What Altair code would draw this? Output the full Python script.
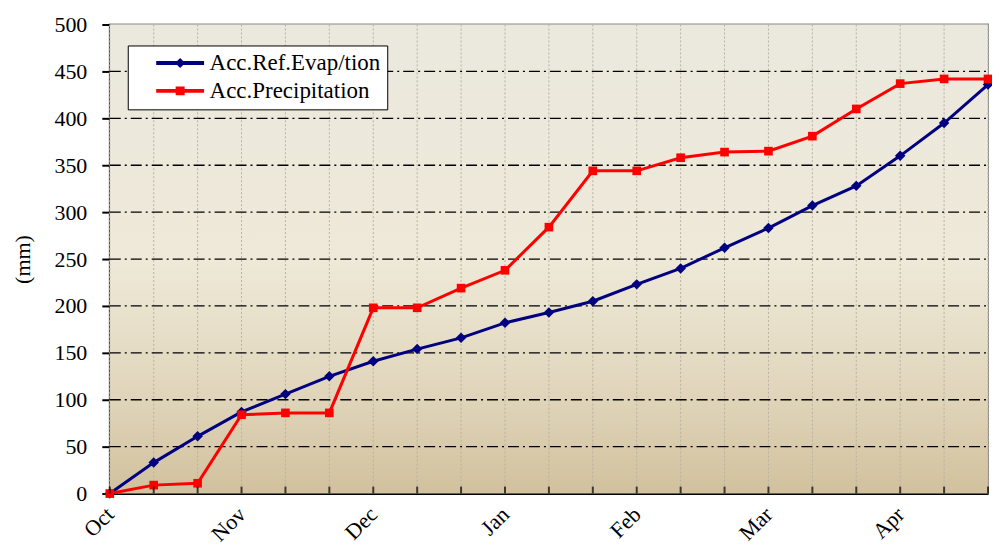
import altair as alt
import pandas as pd

months = ["Oct", "Nov", "Dec", "Jan", "Feb", "Mar", "Apr"]
dekad = list(range(21))
evap = [0, 33, 61, 87, 106, 125, 141, 154, 166, 182, 193, 205, 223, 240, 262, 283, 307, 328, 360, 395, 436]
precip = [0, 9, 11, 84, 86, 86, 198, 198, 219, 238, 284, 344, 344, 358, 364, 365, 381, 410, 437, 442, 442]
series_names = ["Acc.Ref.Evap/tion", "Acc.Precipitation"]
colors = ["#000080", "#ff0000"]
marker_shapes = ["diamond", "square"]
marker_sizes = [110, 75]
y_ticks = list(range(0, 501, 50))

W, H = 880, 470
FONT = "Liberation Serif"

df = pd.DataFrame({
    "dekad": dekad * 2,
    "value": evap + precip,
    "series": [series_names[0]] * len(dekad) + [series_names[1]] * len(dekad),
})
ticks_df = pd.DataFrame({"dekad": dekad})
ygrid_df = pd.DataFrame({"value": y_ticks[1:-1]})

month_js = "[" + ",".join("'%s'" % m for m in months) + "]"
x_label_expr = f"(datum.value % 3 == 0 && datum.value / 3 < {len(months)}) ? {month_js}[datum.value / 3] : ''"

color_scale = alt.Scale(domain=series_names, range=colors)
x_scale = alt.Scale(domain=[0, 20], nice=False, zero=False)
y_scale = alt.Scale(domain=[0, 500], nice=False)

x_axis = alt.Axis(
    values=dekad, labelExpr=x_label_expr, title=None, ticks=False, grid=False,
    domainColor="black", domainWidth=2,
    labelAngle=315, labelAlign="right", labelBaseline="middle", labelPadding=17,
    labelFont=FONT, labelFontSize=22, labelColor="black",
)
y_axis = alt.Axis(
    values=y_ticks, title="(mm)", titleFont=FONT, titleFontSize=22, titleFontWeight="normal",
    titleColor="black", titlePadding=19, grid=False,
    tickSize=8, tickColor="black", tickWidth=2, domainColor="black", domainWidth=2,
    labelFont=FONT, labelFontSize=22, labelColor="black", labelPadding=15,
)

bg = alt.Chart(pd.DataFrame({"k": [0]})).mark_rect(
    fill=alt.Gradient(
        gradient="linear", x1=0, x2=0, y1=0, y2=1,
        stops=[
            alt.GradientStop(offset=0, color="#ebe8de"),
            alt.GradientStop(offset=0.5, color="#eee9d8"),
            alt.GradientStop(offset=0.78, color="#e1d6bc"),
            alt.GradientStop(offset=1, color="#d1c19d"),
        ],
    )
).encode(x=alt.value(0), x2=alt.value(W), y=alt.value(0), y2=alt.value(H))

vgrid = alt.Chart(ticks_df).mark_rule(color="#b8b2a2", strokeDash=[2, 2], strokeWidth=1).encode(
    x=alt.X("dekad:Q", scale=x_scale, axis=x_axis), y=alt.value(0), y2=alt.value(H)
)
hgrid = alt.Chart(ygrid_df).mark_rule(color="black", strokeDash=[11, 4, 2, 4], strokeWidth=1.3).encode(
    y=alt.Y("value:Q", scale=y_scale, axis=y_axis), x=alt.value(0), x2=alt.value(W)
)

base = alt.Chart(df)
series_layers = []
for name, col, shp, sz in zip(series_names, colors, marker_shapes, marker_sizes):
    sub = base.transform_filter(alt.datum.series == name)
    series_layers.append(sub.mark_line(strokeWidth=3, color=col).encode(
        x=alt.X("dekad:Q", scale=x_scale), y=alt.Y("value:Q", scale=y_scale)))
for name, col, shp, sz in zip(series_names, colors, marker_shapes, marker_sizes):
    sub = base.transform_filter(alt.datum.series == name)
    series_layers.append(sub.mark_point(shape=shp, filled=True, size=sz, opacity=1, color=col).encode(
        x=alt.X("dekad:Q", scale=x_scale), y=alt.Y("value:Q", scale=y_scale)))

inner_ticks = alt.Chart(ticks_df).mark_tick(
    color="black", thickness=2, size=7, orient="vertical", yOffset=-3.5
).encode(x=alt.X("dekad:Q", scale=x_scale), y=alt.value(H))

# legend symbol: line segment with marker, in units of sqrt(symbolSize)/2 = 10px
bar = "M-1,-0.2L3.8,-0.2L3.8,0.2L-1,0.2Z"
diamond_path = bar + "M1.4,-0.5L1.9,0L1.4,0.5L0.9,0Z"
square_path = bar + "M0.95,-0.45L1.85,-0.45L1.85,0.45L0.95,0.45Z"

legend_layer = base.transform_filter("false").mark_point(filled=True, opacity=1).encode(
    x=alt.X("dekad:Q", scale=x_scale), y=alt.Y("value:Q", scale=y_scale),
    color=alt.Color("series:N", scale=color_scale, title=None,
                    legend=alt.Legend(
                        orient="none", legendX=18, legendY=21, title=None,
                        fillColor="white", strokeColor="black", padding=6,
                        symbolSize=400, symbolOffset=21, symbolStrokeWidth=0, symbolOpacity=1,
                        labelFont=FONT, labelFontSize=23, labelColor="black",
                        labelOffset=32, labelLimit=400, rowPadding=4,
                        labelExpr="datum.label + '" + "\u00a0" * 8 + "'",
                    )),
    shape=alt.Shape("series:N", title=None,
                    scale=alt.Scale(domain=series_names, range=[diamond_path, square_path])),
)

chart = alt.layer(bg, vgrid, hgrid, *series_layers, inner_ticks, legend_layer).properties(
    width=W, height=H,
    autosize=alt.AutoSizeParams(type="none"),
    padding={"left": 102, "top": 16, "right": 4, "bottom": 52},
).configure_view(
    stroke="#8a8a8a", strokeWidth=2,
)

chart.save("out.html", embed_options={"renderer": "svg", "actions": False})
